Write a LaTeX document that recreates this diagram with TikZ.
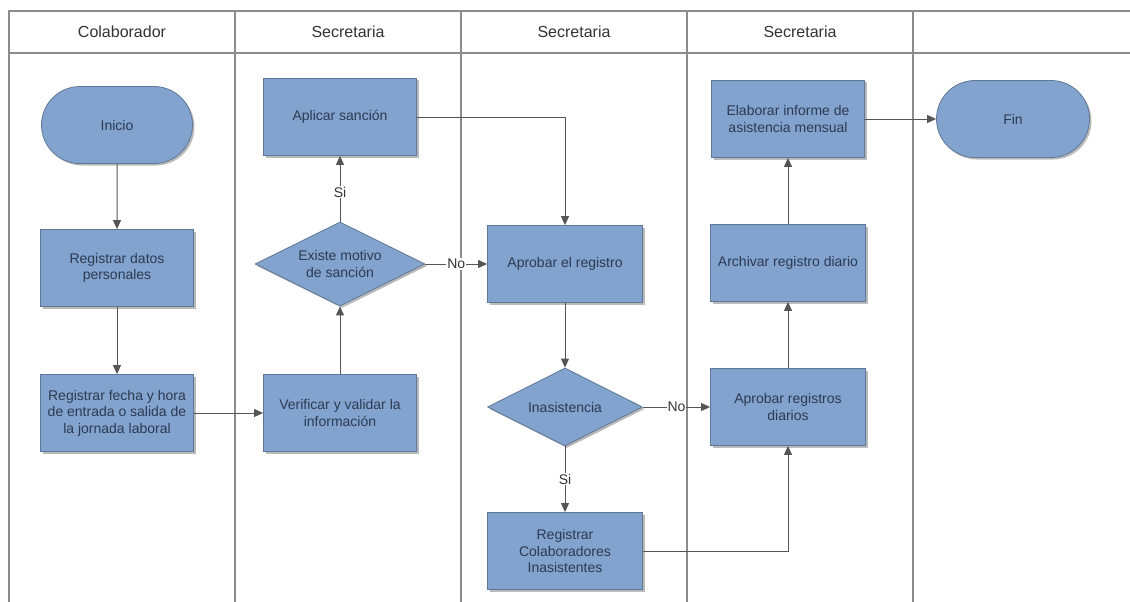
\documentclass[tikz,border=0pt]{standalone}
\usepackage{fontspec}
\setmainfont{Liberation Sans}
\usetikzlibrary{shapes.geometric,shapes.misc,arrows.meta,shadows}
\definecolor{boxfill}{HTML}{82A3CE}
\definecolor{boxline}{HTML}{5F7898}
\definecolor{boxtext}{HTML}{2C3A52}
\definecolor{laneline}{HTML}{8C8C8C}
\definecolor{flowline}{HTML}{555555}
\definecolor{headtext}{HTML}{333333}
\begin{document}
\begin{tikzpicture}[x=1pt,y=-1pt,
  shape base/.style={draw=boxline,fill=boxfill,line width=0.8pt,text=boxtext,
    align=center,font=\fontsize{14}{16.5}\selectfont,inner sep=2pt,
    drop shadow={shadow xshift=2pt,shadow yshift=-2pt,opacity=0.45,fill=black!60}},
  process/.style={shape base,rectangle,minimum width=153pt,minimum height=77pt},
  terminal/.style={shape base,rounded rectangle,minimum width=155pt,minimum height=77pt},
  decision/.style={shape base,diamond,shape aspect=2,inner sep=0pt},
  flow/.style={draw=flowline,line width=1pt,-{Triangle[length=9pt,width=8pt]}},
  flowlabel/.style={fill=white,text=headtext,font=\fontsize{14}{16}\selectfont,inner sep=1pt},
  lane/.style={draw=laneline,line width=1.3pt},
  lanehead/.style={text=headtext,font=\fontsize{16}{18}\selectfont}
]
\useasboundingbox[fill=white] (0,0) rectangle (1130,602);

% swimlane frame
\draw[lane] (9,602) -- (9,11) -- (1130,11);
\draw[lane] (9,53) -- (1130,53);
\foreach \x in {235,461,687,913} \draw[lane] (\x,11) -- (\x,602);
\node[lanehead] (h1) at (122,32) {Colaborador};
\node[lanehead] (h2) at (348,32) {Secretaria};
\node[lanehead] (h3) at (574,32) {Secretaria};
\node[lanehead] (h4) at (800,32) {Secretaria};

% steps
\node[terminal] (ini) at (117,125) {Inicio};
\node[process] (rdp) at (117,268) {Registrar datos\\personales};
\node[process] (rfh) at (117,413) {Registrar fecha y hora\\de entrada o salida de\\la jornada laboral};
\node[process] (ver) at (340,413) {Verificar y validar la\\información};
\node[decision,minimum width=170pt,minimum height=84pt] (mot) at (340,264) {Existe motivo\\de sanción};
\node[process] (apl) at (340,117) {Aplicar sanción};
\node[process,minimum width=155pt] (apr) at (565,264) {Aprobar el registro};
\node[decision,minimum width=155pt,minimum height=78pt] (ina) at (565,407) {Inasistencia};
\node[process,minimum width=155pt] (rci) at (565,551) {Registrar\\Colaboradores\\Inasistentes};
\node[process,minimum width=155pt] (ard) at (788,407) {Aprobar registros\\diarios};
\node[process,minimum width=155pt] (arc) at (788,263) {Archivar registro diario};
\node[process] (ela) at (788,119) {Elaborar informe de\\asistencia mensual};
\node[terminal,minimum width=157pt] (fin) at (1013,119) {Fin};

% connectors
\draw[flow] (ini) -- (rdp);
\draw[flow] (rdp) -- (rfh);
\draw[flow] (rfh) -- (ver);
\draw[flow] (ver) -- (mot);
\draw[flow] (mot) -- node[flowlabel,pos=0.45] {Si} (apl);
\draw[flow] (mot) -- node[flowlabel,pos=0.5] {No} (apr);
\draw[flow] (apl.east) -| (apr.north);
\draw[flow] (apr) -- (ina);
\draw[flow] (ina) -- node[flowlabel,pos=0.5] {Si} (rci);
\draw[flow] (ina) -- node[flowlabel,pos=0.5] {No} (ard);
\draw[flow] (rci.east) -| (ard.south);
\draw[flow] (ard) -- (arc);
\draw[flow] (arc) -- (ela);
\draw[flow] (ela) -- (fin);
\end{tikzpicture}
\end{document}
